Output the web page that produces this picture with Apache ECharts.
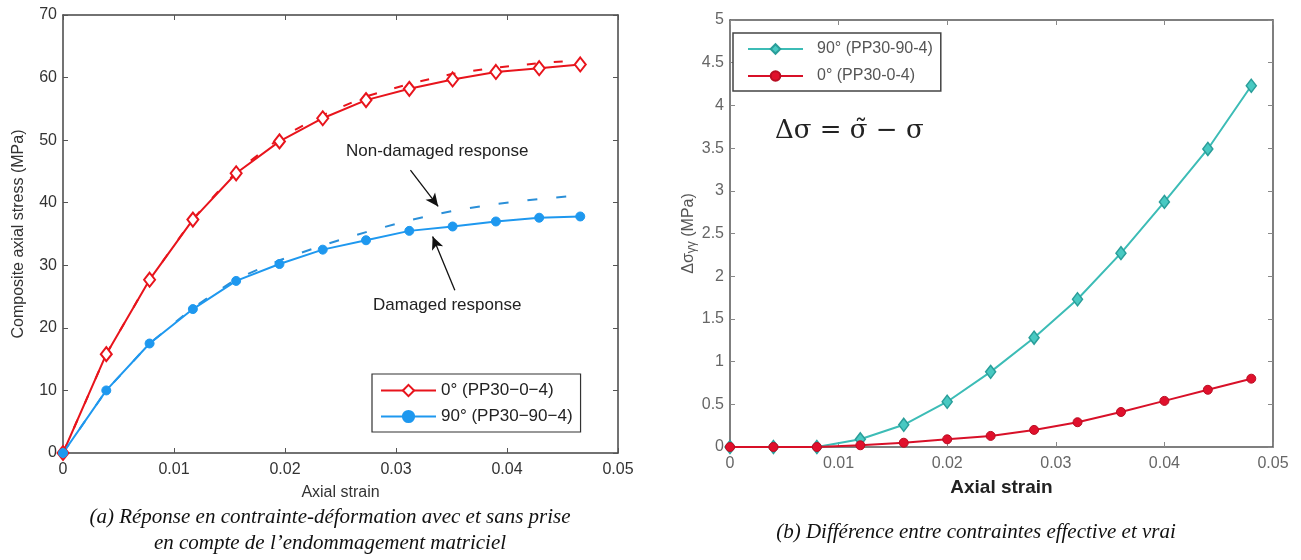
<!DOCTYPE html>
<html>
<head>
<meta charset="utf-8">
<script src="https://cdn.jsdelivr.net/npm/echarts@6/dist/echarts.min.js"></script>
<style>
  html, body { margin: 0; padding: 0; background: #fff; }
  #chart { width: 1301px; height: 560px; }
</style>
</head>
<body>
<div id="chart"></div>
<script>
// (a) stress-strain, with and without damage
const strainA = [0, 0.0039, 0.0078, 0.0117, 0.0156, 0.0195, 0.0234, 0.0273, 0.0312, 0.0351, 0.039, 0.0429, 0.0466];
const stress0 = [0, 15.8, 27.7, 37.3, 44.7, 49.8, 53.5, 56.4, 58.2, 59.7, 60.9, 61.5, 62.1];
const stress0NoDamage = [0, 15.8, 27.7, 37.4, 44.9, 50.3, 54.0, 57.0, 59.0, 60.6, 61.6, 62.3, 62.8];
const stress90 = [0, 10.0, 17.5, 23.0, 27.5, 30.2, 32.5, 34.0, 35.5, 36.2, 37.0, 37.6, 37.8];
const stress90NoDamage = [0, 10.0, 17.5, 23.2, 27.8, 30.8, 33.2, 35.3, 37.2, 38.7, 39.8, 40.6, 41.2];

// (b) effective minus true stress
const strainB = [0, 0.004, 0.008, 0.012, 0.016, 0.02, 0.024, 0.028, 0.032, 0.036, 0.04, 0.044, 0.048];
const delta90 = [0, 0, 0, 0.09, 0.26, 0.53, 0.88, 1.28, 1.73, 2.27, 2.87, 3.49, 4.23];
const delta0 = [0, 0, 0, 0.02, 0.05, 0.09, 0.13, 0.2, 0.29, 0.41, 0.54, 0.67, 0.8];

const strainTicks = ['0', '0.01', '0.02', '0.03', '0.04', '0.05'];
const stressTicks = ['0', '10', '20', '30', '40', '50', '60', '70'];
const deltaTicks = ['0', '0.5', '1', '1.5', '2', '2.5', '3', '3.5', '4', '4.5', '5'];

const nameA0 = '0° (PP30−0−4)';
const nameA90 = '90° (PP30−90−4)';
const nameB90 = '90° (PP30-90-4)';
const nameB0 = '0° (PP30-0-4)';

const pairs = (xs, ys) => xs.map((x, i) => [x, ys[i]]);
const tickFmt = (labels, step) => v => labels[Math.round(v / step)] ?? '';

const chart = echarts.init(document.getElementById('chart'));

const sans = 'Liberation Sans, Arial, sans-serif';

function boxAxis(grid, pos, min, max, interval, labels, opts) {
  const horizontal = pos === 'bottom' || pos === 'top';
  const main = pos === 'bottom' || pos === 'left';
  return Object.assign({
    type: 'value',
    gridIndex: grid,
    position: pos,
    min: min,
    max: max,
    interval: interval,
    axisLine: { show: true, onZero: false, lineStyle: { color: opts.lineColor, width: 1.5 } },
    axisTick: { show: true, inside: true, length: 5, lineStyle: { color: opts.tickColor } },
    splitLine: { show: false },
    axisLabel: {
      show: main,
      formatter: tickFmt(labels, interval),
      color: opts.labelColor,
      fontSize: opts.labelSize,
      fontFamily: sans,
      margin: horizontal ? 9 : 6
    }
  }, opts.extra || {});
}

const styleA = { lineColor: '#444', tickColor: '#555', labelColor: '#333', labelSize: 16 };
const styleB = { lineColor: '#555', tickColor: '#888', labelColor: '#666', labelSize: 16 };

const option = {
  animation: false,
  grid: [
    { left: 63, right: 683, top: 15, bottom: 107 },
    { left: 730, right: 28, top: 20, bottom: 113 }
  ],
  xAxis: [
    boxAxis(0, 'bottom', 0, 0.05, 0.01, strainTicks, Object.assign({}, styleA, {
      extra: {
        name: 'Axial strain', nameLocation: 'middle', nameGap: 32,
        nameTextStyle: { fontSize: 16, color: '#333', fontFamily: sans }
      }
    })),
    boxAxis(0, 'top', 0, 0.05, 0.01, strainTicks, styleA),
    boxAxis(1, 'bottom', 0, 0.05, 0.01, strainTicks, Object.assign({}, styleB, {
      extra: {
        name: 'Axial strain', nameLocation: 'middle', nameGap: 31,
        nameTextStyle: { fontSize: 19, fontWeight: 'bold', color: '#222', fontFamily: sans }
      }
    })),
    boxAxis(1, 'top', 0, 0.05, 0.01, strainTicks, styleB)
  ],
  yAxis: [
    boxAxis(0, 'left', 0, 70, 10, stressTicks, Object.assign({}, styleA, {
      extra: {
        name: 'Composite axial stress (MPa)', nameLocation: 'middle', nameGap: 36,
        nameTextStyle: { fontSize: 16, color: '#333', fontFamily: sans }
      }
    })),
    boxAxis(0, 'right', 0, 70, 10, stressTicks, styleA),
    boxAxis(1, 'left', 0, 5, 0.5, deltaTicks, Object.assign({}, styleB, {
      extra: {
        name: 'Δσ{sub|γγ} (MPa)', nameLocation: 'middle', nameGap: 32,
        nameTextStyle: {
          fontSize: 16, color: '#555', fontFamily: sans,
          rich: { sub: { fontSize: 12, color: '#555', fontFamily: sans, verticalAlign: 'bottom', padding: [7, 0, 0, 0] } }
        }
      }
    })),
    boxAxis(1, 'right', 0, 5, 0.5, deltaTicks, styleB)
  ],
  legend: [
    {
      data: [nameA0, nameA90],
      left: 372, top: 374,
      orient: 'vertical',
      backgroundColor: '#fff',
      borderColor: '#333', borderWidth: 1.2,
      padding: [8, 8, 7, 8],
      itemGap: 9,
      itemWidth: 55, itemHeight: 14,
      textStyle: { fontSize: 17, color: '#222', fontFamily: sans }
    },
    {
      data: [nameB90, nameB0],
      left: 733, top: 33,
      orient: 'vertical',
      backgroundColor: '#fff',
      borderColor: '#444', borderWidth: 1.5,
      padding: [8, 8, 7, 14],
      itemGap: 11,
      itemWidth: 55, itemHeight: 12,
      textStyle: { fontSize: 16, color: '#555', fontFamily: sans, padding: [0, 0, 0, 9] }
    }
  ],
  series: [
    {
      name: nameA0 + ' no damage', type: 'line', xAxisIndex: 0, yAxisIndex: 0,
      data: pairs(strainA, stress0NoDamage), showSymbol: false, symbol: 'none',
      lineStyle: { color: '#e8141c', width: 2, type: [9, 18] }, z: 1
    },
    {
      name: nameA90 + ' no damage', type: 'line', xAxisIndex: 0, yAxisIndex: 0,
      data: pairs(strainA, stress90NoDamage), showSymbol: false, symbol: 'none',
      lineStyle: { color: '#2a8fd8', width: 2, type: [10, 19] }, z: 1,
      markLine: {
        silent: true,
        symbol: ['none', 'arrow'],
        symbolSize: [9, 13],
        label: { show: false },
        lineStyle: { color: '#111', width: 1.3, type: 'solid' },
        data: [
          [{ coord: [0.0313, 45.2] }, { coord: [0.0338, 39.4] }],
          [{ coord: [0.0353, 26.0] }, { coord: [0.0333, 34.6] }]
        ]
      }
    },
    {
      name: nameA0, type: 'line', xAxisIndex: 0, yAxisIndex: 0,
      data: pairs(strainA, stress0),
      symbol: 'diamond', symbolSize: [11, 14],
      itemStyle: { color: '#fff', borderColor: '#e8141c', borderWidth: 2 },
      lineStyle: { color: '#e8141c', width: 2 }, z: 3
    },
    {
      name: nameA90, type: 'line', xAxisIndex: 0, yAxisIndex: 0,
      data: pairs(strainA, stress90),
      symbol: 'circle', symbolSize: 9,
      itemStyle: { color: '#1e98ef', borderColor: '#1e98ef', borderWidth: 1 },
      lineStyle: { color: '#1e98ef', width: 2 }, z: 3
    },
    {
      name: nameB90, type: 'line', xAxisIndex: 2, yAxisIndex: 2,
      data: pairs(strainB, delta90),
      symbol: 'diamond', symbolSize: [10, 13],
      itemStyle: { color: '#48c9c2', borderColor: '#2a9e9a', borderWidth: 1.5 },
      lineStyle: { color: '#3cbcb6', width: 2 }, z: 3
    },
    {
      name: nameB0, type: 'line', xAxisIndex: 2, yAxisIndex: 2,
      data: pairs(strainB, delta0),
      symbol: 'circle', symbolSize: 9,
      itemStyle: { color: '#e0102c', borderColor: '#b80d22', borderWidth: 1 },
      lineStyle: { color: '#d81028', width: 2 }, z: 4
    }
  ],
  graphic: [
    {
      type: 'text', left: 346, top: 143,
      style: { text: 'Non-damaged response', fontSize: 17, fill: '#222', fontFamily: sans }
    },
    {
      type: 'text', left: 373, top: 297,
      style: { text: 'Damaged response', fontSize: 17, fill: '#222', fontFamily: sans }
    },
    {
      type: 'text', left: 775, top: 118,
      style: { text: 'Δσ = σ\u0303 − σ', fontSize: 26, fill: '#222', fontFamily: 'DejaVu Serif, Liberation Serif, serif' }
    },
    {
      type: 'text', x: 330, y: 517,
      style: {
        text: '(a) Réponse en contrainte-déformation avec et sans prise',
        fontSize: 21, fontStyle: 'italic', fill: '#111',
        fontFamily: 'Liberation Serif, Times New Roman, serif',
        align: 'center', verticalAlign: 'middle'
      }
    },
    {
      type: 'text', x: 330, y: 543,
      style: {
        text: 'en compte de l’endommagement matriciel',
        fontSize: 21, fontStyle: 'italic', fill: '#111',
        fontFamily: 'Liberation Serif, Times New Roman, serif',
        align: 'center', verticalAlign: 'middle'
      }
    },
    {
      type: 'text', x: 976, y: 532,
      style: {
        text: '(b) Différence entre contraintes effective et vrai',
        fontSize: 21, fontStyle: 'italic', fill: '#111',
        fontFamily: 'Liberation Serif, Times New Roman, serif',
        align: 'center', verticalAlign: 'middle'
      }
    }
  ]
};

option && chart.setOption(option);
window.addEventListener('resize', function () {
  chart.resize();
});
</script>
</body>
</html>
